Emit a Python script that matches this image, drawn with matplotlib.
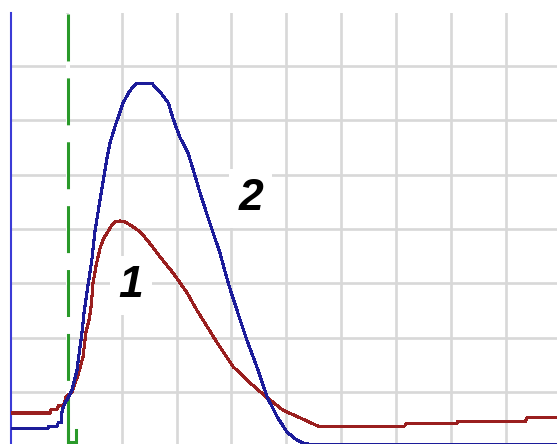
import matplotlib
matplotlib.use("Agg")
import matplotlib.pyplot as plt

# Response traces (time in grid divisions, amplitude in grid divisions)
t1 = [0.00, 0.70, 0.72, 0.83, 0.85, 0.94, 0.99, 1.10, 1.21, 1.30, 1.35, 1.41, 1.45,
      1.48, 1.54, 1.61, 1.68, 1.74, 1.83, 1.88, 1.97, 2.06, 2.15, 2.34, 2.52, 2.70,
      2.94, 3.19, 3.37, 3.74, 4.03, 4.34, 4.65, 4.94, 5.25, 5.57, 7.15, 7.17, 8.10,
      8.12, 9.35, 9.37, 9.92]
v1 = [0.62, 0.62, 0.69, 0.69, 0.75, 0.75, 0.91, 1.01, 1.32, 1.65, 2.09, 2.33, 2.60,
      3.00, 3.34, 3.65, 3.84, 3.93, 4.08, 4.13, 4.15, 4.13, 4.08, 3.95, 3.73, 3.49,
      3.19, 2.83, 2.51, 1.91, 1.47, 1.17, 0.90, 0.67, 0.53, 0.38, 0.38, 0.42, 0.42,
      0.47, 0.47, 0.53, 0.53]

t2 = [0.00, 0.66, 0.68, 0.83, 0.85, 0.90, 0.92, 0.97, 1.03, 1.10, 1.19, 1.23, 1.28,
      1.32, 1.37, 1.46, 1.52, 1.61, 1.66, 1.74, 1.79, 1.88, 2.03, 2.15, 2.28, 2.55,
      2.70, 2.85, 2.94, 3.06, 3.21, 3.30, 3.43, 3.57, 3.79, 3.94, 4.05, 4.28, 4.46,
      4.65, 4.83, 5.01, 5.19, 5.30, 5.43, 9.92]
v2 = [0.34, 0.34, 0.38, 0.38, 0.44, 0.44, 0.67, 0.80, 0.90, 1.04, 1.41, 1.72, 2.09,
      2.48, 2.83, 3.43, 3.98, 4.54, 4.84, 5.33, 5.58, 5.88, 6.32, 6.54, 6.68, 6.68,
      6.52, 6.32, 6.02, 5.69, 5.40, 5.10, 4.66, 4.22, 3.56, 3.01, 2.66, 1.96, 1.47,
      0.91, 0.55, 0.27, 0.12, 0.07, 0.04, 0.04]

stim_t = 1.03          # stimulus marker position
labels = ["1", "2"]
label_pos = [(2.17, 2.75), (4.35, 4.35)]

plt.rcParams["lines.scale_dashes"] = False

W, H = 557, 444
fig = plt.figure(figsize=(W / 100, H / 100), dpi=100)
ax = fig.add_axes([11 / W, 0, (W - 11) / W, (H - 13) / H])
ax.set_xlim(-0.01, 9.92)
ax.set_ylim(0.05, 7.97)

ax.set_xticks(range(1, 10))
ax.set_yticks(range(1, 8))
ax.tick_params(length=0, labelbottom=False, labelleft=False)
ax.grid(True, color="#d8d8d8", linewidth=1.9)
ax.set_axisbelow(True)

for side in ("top", "right", "bottom"):
    ax.spines[side].set_visible(False)
ax.spines["left"].set_color("#3b3bd6")
ax.spines["left"].set_linewidth(1.5)

# stimulus marker: white strip with green dashes on top
ax.plot([stim_t, stim_t], [7.95, 0.0], color="white", lw=2.9,
        solid_capstyle="butt", zorder=2.5)
ax.plot([stim_t, stim_t], [7.95, 0.0], color="#2a9a2a", lw=2.2,
        dashes=(33.8, 12.2), dash_capstyle="butt", zorder=2.6)
ax.plot([stim_t, stim_t, stim_t + 0.15, stim_t + 0.15], [0.31, 0.08, 0.08, 0.31],
        color="#2a9a2a", lw=2.2, solid_joinstyle="miter", zorder=2.6)

for txt, (lx, ly) in zip(labels, label_pos):
    ax.text(lx, ly, txt, fontsize=32, family="Liberation Sans", weight="bold",
            style="italic", ha="center", va="baseline", color="black",
            bbox=dict(boxstyle="square,pad=0.2", fc="white", ec="none"), zorder=2.7)

ax.plot(t1, v1, color="#9a1f1f", lw=1.5, zorder=4, antialiased=False)
ax.plot(t2, v2, color="#1c1c9a", lw=1.5, zorder=5, antialiased=False)

fig.savefig("out.png", dpi=100, facecolor="white")
